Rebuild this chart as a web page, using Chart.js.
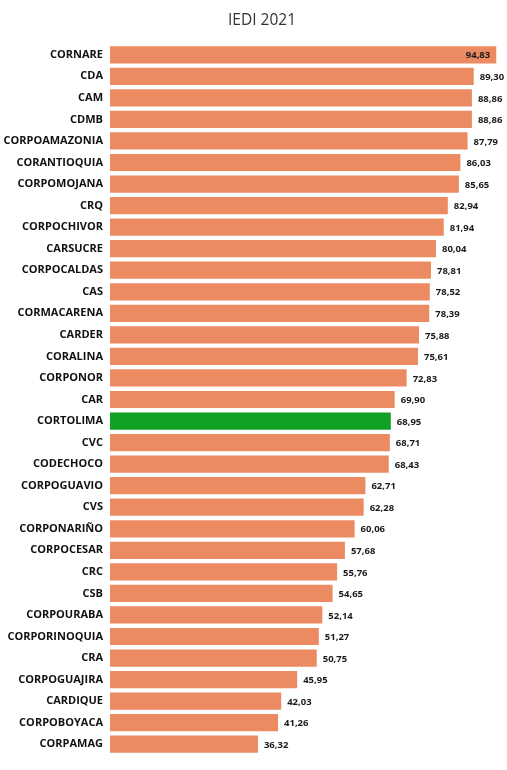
<!DOCTYPE html>
<html>
<head>
<meta charset="utf-8">
<script src="https://cdn.jsdelivr.net/npm/chart.js@4/dist/chart.umd.min.js"></script>
<style>
  html, body { margin: 0; padding: 0; background: #fff; }
  #wrap { width: 507px; height: 770px; }
</style>
</head>
<body>
<div id="wrap"><canvas id="chart" width="507" height="770"></canvas></div>
<script>
  const categories = [
    'CORNARE', 'CDA', 'CAM', 'CDMB', 'CORPOAMAZONIA', 'CORANTIOQUIA', 'CORPOMOJANA',
    'CRQ', 'CORPOCHIVOR', 'CARSUCRE', 'CORPOCALDAS', 'CAS', 'CORMACARENA', 'CARDER',
    'CORALINA', 'CORPONOR', 'CAR', 'CORTOLIMA', 'CVC', 'CODECHOCO', 'CORPOGUAVIO',
    'CVS', 'CORPONARIÑO', 'CORPOCESAR', 'CRC', 'CSB', 'CORPOURABA', 'CORPORINOQUIA',
    'CRA', 'CORPOGUAJIRA', 'CARDIQUE', 'CORPOBOYACA', 'CORPAMAG',
  ];
  const iedi2021 = [
    94.83, 89.30, 88.86, 88.86, 87.79, 86.03, 85.65,
    82.94, 81.94, 80.04, 78.81, 78.52, 78.39, 75.88,
    75.61, 72.83, 69.90, 68.95, 68.71, 68.43, 62.71,
    62.28, 60.06, 57.68, 55.76, 54.65, 52.14, 51.27,
    50.75, 45.95, 42.03, 41.26, 36.32,
  ];
  const highlighted = ['CORTOLIMA'];
  const chartTitle = 'IEDI 2021';

  const ORANGE = '#ec8a62';
  const GREEN = '#11a124';
  const FONT = "'Open Sans', 'Noto Sans', sans-serif";

  const fmt = (v) => v.toFixed(2).replace('.', ',');

  // title sits a bit right of the canvas centre in the original
  const titleText = {
    id: 'titleText',
    afterDraw(chart) {
      const ctx = chart.ctx;
      ctx.save();
      ctx.font = `15.5px ${FONT}`;
      ctx.fillStyle = '#333';
      ctx.textAlign = 'center';
      ctx.textBaseline = 'middle';
      ctx.fillText(chartTitle, 262, 21);
      ctx.restore();
    },
  };

  // value labels at the bar ends (inside the bar when there is no room)
  const valueLabels = {
    id: 'valueLabels',
    afterDatasetsDraw(chart) {
      const ctx = chart.ctx;
      const meta = chart.getDatasetMeta(0);
      ctx.save();
      ctx.font = `bold 9.5px ${FONT}`;
      ctx.fillStyle = '#1a1a1a';
      ctx.textBaseline = 'middle';
      meta.data.forEach((bar, i) => {
        const text = fmt(iedi2021[i]);
        const w = ctx.measureText(text).width;
        if (bar.x + 6 + w > chart.width) {
          ctx.textAlign = 'right';
          ctx.fillText(text, bar.x - 6, bar.y + 1);
        } else {
          ctx.textAlign = 'left';
          ctx.fillText(text, bar.x + 6, bar.y + 1);
        }
      });
      ctx.restore();
    },
  };

  new Chart(document.getElementById('chart').getContext('2d'), {
    type: 'bar',
    data: {
      labels: categories,
      datasets: [{
        data: iedi2021,
        backgroundColor: categories.map((c) => (highlighted.includes(c) ? GREEN : ORANGE)),
        barPercentage: 0.8,
        categoryPercentage: 1.0,
      }],
    },
    options: {
      indexAxis: 'y',
      responsive: false,
      animation: false,
      layout: { padding: { top: 44, right: 6, bottom: 15, left: 0 } },
      scales: {
        x: {
          display: false,
          min: 0,
          max: 96,
        },
        y: {
          grid: { display: false, drawTicks: false },
          border: { display: false },
          afterFit: (scale) => { scale.width = 110; },
          ticks: {
            color: '#111',
            padding: 7,
            font: { family: FONT, size: 11, weight: 'bold' },
          },
        },
      },
      plugins: {
        legend: { display: false },
        tooltip: { enabled: false },
        title: { display: false },
      },
    },
    plugins: [valueLabels, titleText],
  });
</script>
</body>
</html>
